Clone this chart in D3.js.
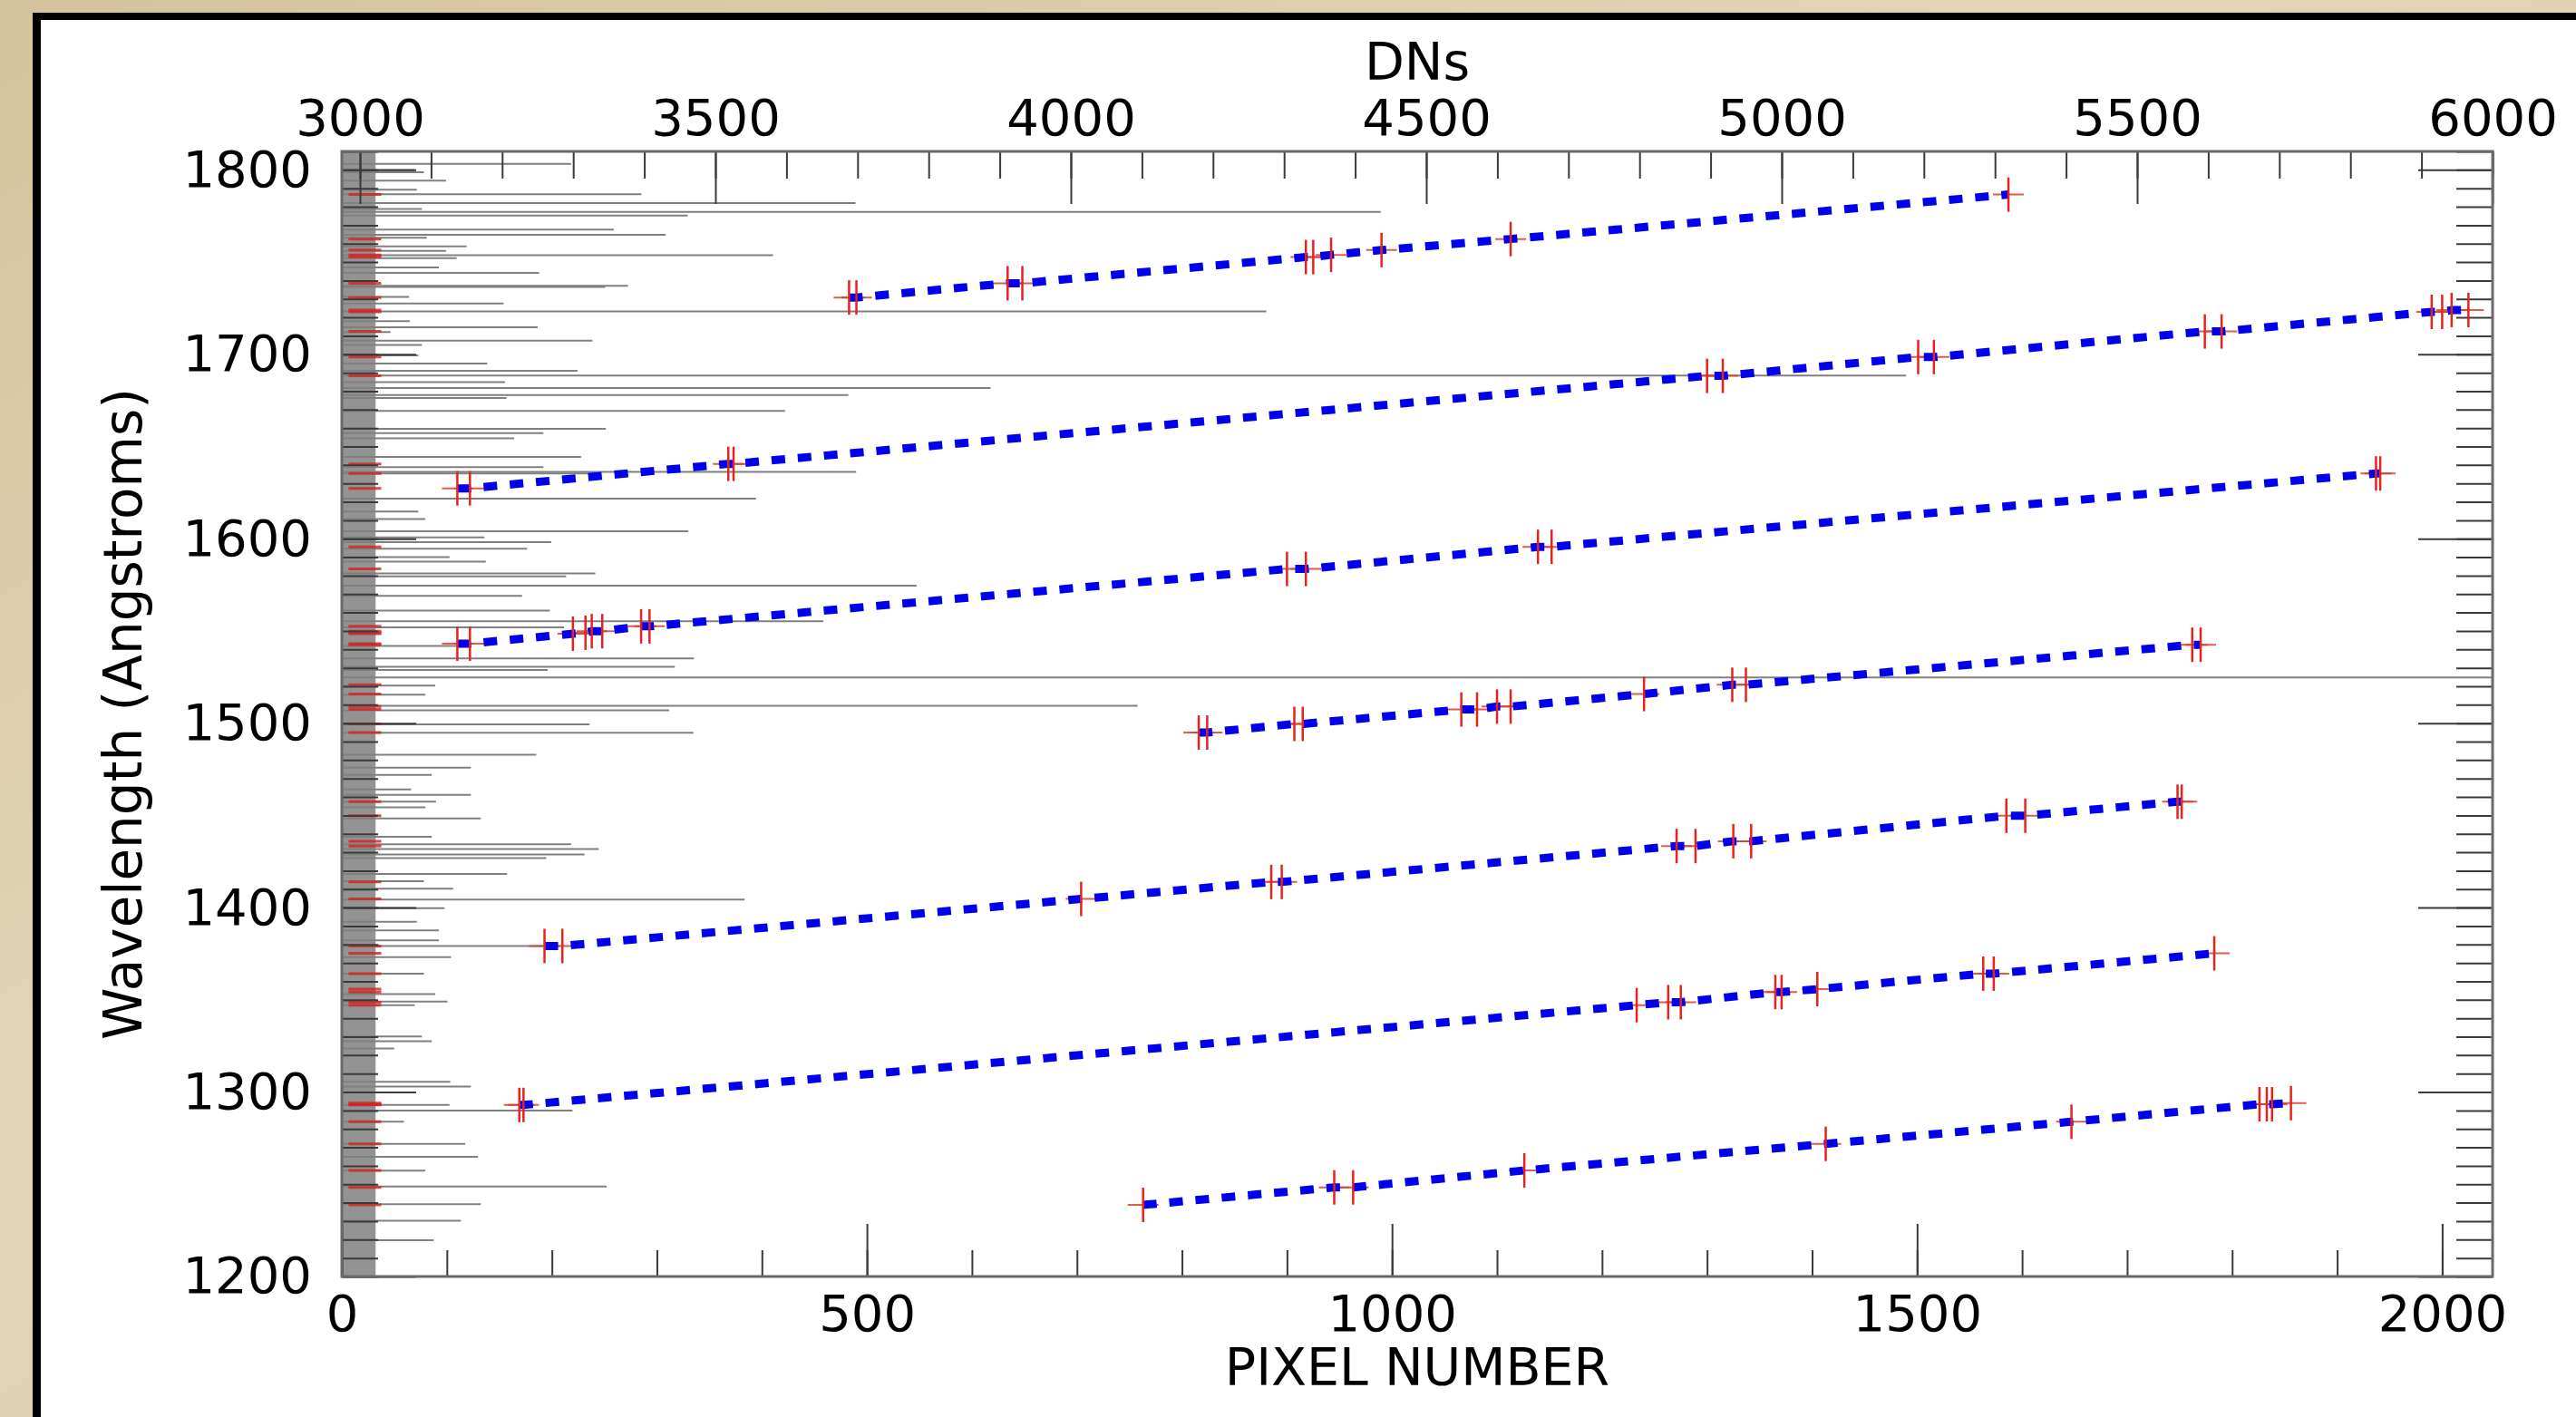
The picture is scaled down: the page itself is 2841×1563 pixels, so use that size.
<!DOCTYPE html>
<html>
<head>
<meta charset="utf-8">
<script src="https://cdnjs.cloudflare.com/ajax/libs/d3/7.8.5/d3.min.js"></script>
<style>
html, body { margin: 0; padding: 0; background: #d8caa6; }
svg { display: block; }
text { font-family: "DejaVu Sans", sans-serif; fill: #000; }
</style>
</head>
<body>
<svg id="chart" width="2841" height="1563"></svg>
<script>

// spectral orders: [pixel number, wavelength (A)] of the identified lines
const orderA = [[483,1730.8],[490,1730.8],[634,1738.5],[648,1738.5],[918,1752.7],[925,1752.7],[942,1753.9],[990,1756.5],[1113,1762.5],[1587,1786.6]];
const orderB = [[110,1627.3],[122,1627.3],[368,1640.6],[373,1640.6],[1300,1688.3],[1315,1688.3],[1501,1698.5],[1516,1698.5],[1774,1712.4],[1790,1712.4],[1990,1723.0],[2000,1723.0],[2009,1724.0],[2025,1724.0]];
const orderC = [[110,1543.1],[122,1543.1],[220,1548.5],[232,1549.0],[238,1549.9],[248,1549.9],[285,1552.5],[293,1552.5],[900,1583.6],[918,1583.6],[1139,1595.6],[1152,1595.6],[1937,1635.4],[1941,1635.4]];
const orderD = [[816,1494.9],[824,1494.9],[907,1499.6],[915,1499.6],[1066,1507.4],[1081,1507.4],[1100,1509.0],[1113,1509.0],[1240,1515.8],[1324,1520.8],[1337,1520.8],[1762,1542.5],[1770,1542.5]];
const orderE = [[193,1379.2],[210,1379.2],[704,1404.7],[885,1413.9],[895,1413.9],[1271,1433.4],[1289,1433.4],[1325,1436.0],[1342,1436.0],[1585,1449.8],[1603,1449.8],[1748,1457.4],[1752,1457.4]];
const orderF = [[169,1293.0],[173,1293.0],[1233,1347.1],[1263,1348.7],[1275,1348.7],[1365,1354.2],[1371,1354.2],[1405,1355.8],[1563,1364.2],[1573,1364.2],[1783,1375.2]];
const orderG = [[763,1238.8],[945,1248.3],[963,1248.3],[1126,1257.5],[1413,1271.9],[1647,1283.9],[1826,1293.4],[1833,1293.4],[1838,1293.4],[1856,1294.0]];

// spectrum lines: [wavelength (A), peak DN]
const spectrumLines = [[1803.3,3297],[1799.9,3077],[1798.7,3090],[1794.2,3121],[1789.2,3080],[1786.8,3396],[1782.0,3697],[1778.8,3087],[1777.2,4436],[1775.2,3461],[1767.6,3357],[1764.8,3430],[1763.2,3094],[1758.5,3150],[1756.1,3121],[1753.7,3581],[1752.1,3136],[1747.1,3111],[1744.1,3252],[1737.1,3377],[1736.5,3345],[1731.1,3069],[1727.6,3202],[1723.2,4275],[1718.0,3070],[1714.6,3250],[1712.0,3043],[1707.4,3327],[1705.0,3087],[1699.4,3082],[1695.0,3179],[1691.0,3306],[1688.5,5175],[1684.9,3204],[1681.7,3887],[1677.9,3687],[1676.3,3206],[1669.3,3598],[1659.6,3346],[1657.2,3258],[1654.4,3217],[1644.4,3311],[1638.8,3258],[1636.2,3698],[1635.4,3336],[1621.7,3557],[1614.7,3082],[1610.7,3092],[1604.1,3462],[1600.7,3175],[1598.1,3269],[1594.6,3235],[1590.0,3126],[1587.6,3177],[1581.2,3331],[1579.6,3290],[1574.6,3783],[1569.0,3228],[1561.0,3267],[1555.3,3652],[1551.9,3287],[1541.9,3136],[1535.1,3470],[1530.5,3443],[1528.8,3264],[1524.8,6100],[1520.4,3106],[1515.4,3092],[1509.4,4094],[1507.0,3435],[1499.4,3323],[1494.8,3469],[1482.9,3248],[1475.9,3156],[1471.9,3101],[1464.1,3072],[1461.1,3156],[1457.4,3107],[1454.4,3092],[1448.4,3170],[1438.4,3101],[1434.4,3297],[1431.8,3336],[1428.8,3316],[1426.8,3262],[1418.3,3207],[1414.3,3090],[1410.3,3131],[1404.3,3541],[1399.7,3119],[1392.3,3080],[1387.6,3111],[1382.2,3111],[1379.2,3258],[1373.2,3128],[1364.2,3090],[1353.1,3106],[1349.1,3123],[1347.1,3077],[1330.1,3087],[1327.5,3101],[1323.6,3048],[1305.6,3127],[1303.0,3156],[1293.0,3126],[1290.0,3299],[1283.9,3062],[1271.9,3148],[1264.9,3166],[1257.4,3092],[1248.8,3347],[1239.2,3170],[1230.2,3142],[1219.7,3104]];

// continuum level of the spectrum (DN)
const continuum = [2974.5, 3022];

// tick values
const pixelMajor = [0, 500, 1000, 1500, 2000];
const dnMajor = [3000, 3500, 4000, 4500, 5000, 5500, 6000];
const wlMajor = [1200, 1300, 1400, 1500, 1600, 1700, 1800];

const orders = [orderA, orderB, orderC, orderD, orderE, orderF, orderG];

const W = 2841, H = 1563;
const plot = {left: 377, right: 2749, top: 167, bottom: 1408};

const svg = d3.select('#chart');

let x = d3.scaleLinear().domain([0, 2048]).range([plot.left, plot.right]);
let xDN = d3.scaleLinear().domain([2974.5, 6000]).range([plot.left, plot.right]);
let y = d3.scaleLinear().domain([1200, 1810]).range([plot.bottom, plot.top]);

// background: parchment + white panel with black border
let defs = svg.append('defs');
let grad = defs.append('linearGradient').attr('id', 'paper')
    .attr('x1', 0).attr('y1', 0).attr('x2', 1).attr('y2', 1);
grad.append('stop').attr('offset', '0%').attr('stop-color', '#d4c39c');
grad.append('stop').attr('offset', '40%').attr('stop-color', '#e2d6b7');
grad.append('stop').attr('offset', '100%').attr('stop-color', '#d6c7a2');

defs.append('clipPath').attr('id', 'plotClip')
    .append('rect')
    .attr('x', plot.left).attr('y', plot.top)
    .attr('width', plot.right - plot.left).attr('height', plot.bottom - plot.top);

svg.append('rect').attr('width', W).attr('height', H).attr('fill', 'url(#paper)');
svg.append('rect').attr('x', 36).attr('y', 14).attr('width', W - 36).attr('height', H - 14).attr('fill', '#000');
svg.append('rect').attr('x', 45).attr('y', 22).attr('width', W - 45).attr('height', H - 22).attr('fill', '#fff');

// spectrum (DN on the top axis vs wavelength)
let spec = svg.append('g').attr('clip-path', 'url(#plotClip)');

spec.append('rect')
    .attr('x', xDN(continuum[0]))
    .attr('y', plot.top)
    .attr('width', xDN(continuum[1]) - xDN(continuum[0]))
    .attr('height', plot.bottom - plot.top)
    .attr('fill', '#939393');

spec.selectAll('.specLine')
    .data(spectrumLines)
    .enter()
    .append('line')
    .classed('specLine', true)
    .attr('x1', xDN(continuum[0]))
    .attr('x2', function(d) { return xDN(d[1]); })
    .attr('y1', function(d) { return y(d[0]); })
    .attr('y2', function(d) { return y(d[0]); })
    .attr('stroke', '#808080')
    .attr('stroke-width', 2);

// identified lines marked in red on the spectrum
let allPoints = d3.merge(orders);
let lineWl = Array.from(new Set(allPoints.map(function(d) { return d[1]; })));

spec.selectAll('.idLine')
    .data(lineWl)
    .enter()
    .append('line')
    .classed('idLine', true)
    .attr('x1', xDN(2984))
    .attr('x2', xDN(3030))
    .attr('y1', function(d) { return y(d); })
    .attr('y2', function(d) { return y(d); })
    .attr('stroke', '#d42222')
    .attr('stroke-width', 3)
    .attr('opacity', 0.8);

// axes (ticks point into the plot)
function styleAxis(g) {
    g.select('.domain').remove();
    g.selectAll('.tick line').attr('stroke', '#3a3a3a').attr('stroke-width', 2);
    g.selectAll('.tick text').attr('font-size', 56).attr('font-family', 'DejaVu Sans');
}

svg.append('g')
    .attr('transform', 'translate(0,' + plot.top + ')')
    .call(d3.axisTop(xDN).tickValues(d3.range(3000, 6001, 100)).tickSize(-30).tickFormat(''))
    .call(styleAxis);
svg.append('g')
    .attr('transform', 'translate(0,' + plot.top + ')')
    .call(d3.axisTop(xDN).tickValues(dnMajor).tickSize(-58).tickPadding(18).tickFormat(d3.format('d')))
    .call(styleAxis);

svg.append('g')
    .attr('transform', 'translate(0,' + plot.bottom + ')')
    .call(d3.axisBottom(x).tickValues(d3.range(0, 2001, 100)).tickSize(-29).tickFormat(''))
    .call(styleAxis);
svg.append('g')
    .attr('transform', 'translate(0,' + plot.bottom + ')')
    .call(d3.axisBottom(x).tickValues(pixelMajor).tickSize(-58).tickPadding(20).tickFormat(d3.format('d')))
    .call(styleAxis);

svg.append('g')
    .attr('transform', 'translate(' + plot.left + ',0)')
    .call(d3.axisLeft(y).tickValues(d3.range(1200, 1811, 10)).tickSize(-40).tickFormat(''))
    .call(styleAxis);
svg.append('g')
    .attr('transform', 'translate(' + plot.left + ',0)')
    .call(d3.axisLeft(y).tickValues(wlMajor).tickSize(-82).tickPadding(33).tickFormat(d3.format('d')))
    .call(styleAxis);

svg.append('g')
    .attr('transform', 'translate(' + plot.right + ',0)')
    .call(d3.axisRight(y).tickValues(d3.range(1200, 1811, 10)).tickSize(-40).tickFormat(''))
    .call(styleAxis);
svg.append('g')
    .attr('transform', 'translate(' + plot.right + ',0)')
    .call(d3.axisRight(y).tickValues(wlMajor).tickSize(-82).tickFormat(''))
    .call(styleAxis);

svg.append('rect')
    .attr('x', plot.left).attr('y', plot.top)
    .attr('width', plot.right - plot.left).attr('height', plot.bottom - plot.top)
    .attr('fill', 'none')
    .attr('stroke', '#6a6a6a')
    .attr('stroke-width', 3);

// data points + dispersion fits
let marks = svg.append('g').attr('clip-path', 'url(#plotClip)');

marks.selectAll('.errX')
    .data(allPoints)
    .enter()
    .append('line')
    .classed('errX', true)
    .attr('x1', function(d) { return x(d[0]) - 17; })
    .attr('x2', function(d) { return x(d[0]) + 17; })
    .attr('y1', function(d) { return y(d[1]); })
    .attr('y2', function(d) { return y(d[1]); })
    .attr('stroke', '#d8402e')
    .attr('stroke-width', 2)
    .attr('opacity', 0.85);

let fitLine = d3.line()
    .x(function(d) { return x(d[0]); })
    .y(function(d) { return y(d[1]); });

marks.selectAll('.fit')
    .data(orders)
    .enter()
    .append('path')
    .classed('fit', true)
    .attr('d', fitLine)
    .attr('fill', 'none')
    .attr('stroke', '#0000ee')
    .attr('stroke-width', 9)
    .attr('stroke-dasharray', '15,14');

marks.selectAll('.errY')
    .data(allPoints)
    .enter()
    .append('line')
    .classed('errY', true)
    .attr('x1', function(d) { return x(d[0]); })
    .attr('x2', function(d) { return x(d[0]); })
    .attr('y1', function(d) { return y(d[1]) - 19; })
    .attr('y2', function(d) { return y(d[1]) + 19; })
    .attr('stroke', '#e8221d')
    .attr('stroke-width', 2.5);

// titles
svg.append('text')
    .attr('x', (plot.left + plot.right) / 2)
    .attr('y', 88)
    .attr('text-anchor', 'middle')
    .attr('font-size', 57)
    .text('DNs');

svg.append('text')
    .attr('x', (plot.left + plot.right) / 2)
    .attr('y', 1528)
    .attr('text-anchor', 'middle')
    .attr('font-size', 57)
    .text('PIXEL NUMBER');

svg.append('text')
    .attr('transform', 'translate(156,' + (plot.top + plot.bottom) / 2 + ')rotate(-90)')
    .attr('text-anchor', 'middle')
    .attr('font-size', 58)
    .text('Wavelength (Angstroms)');

</script>
</body>
</html>
